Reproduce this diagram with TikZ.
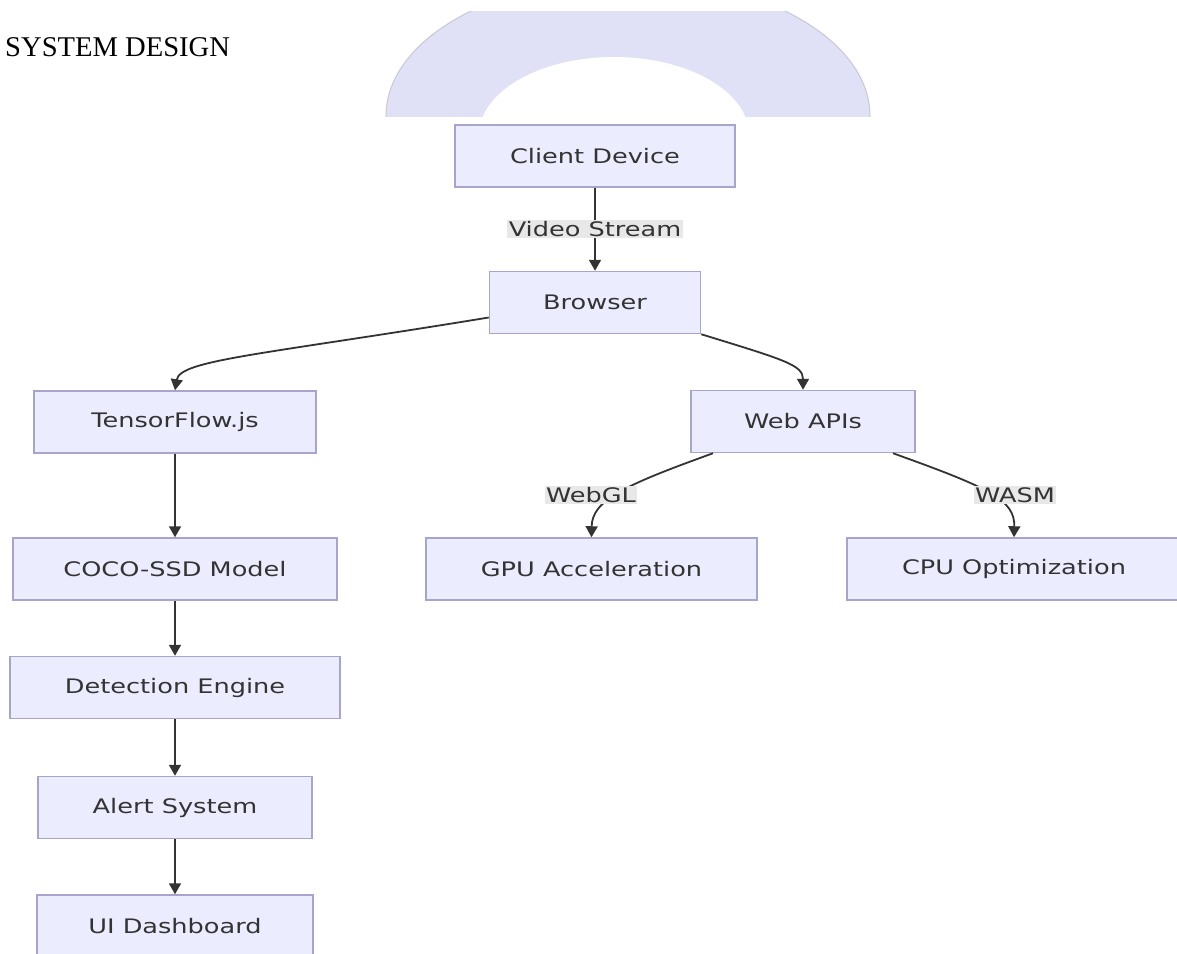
\documentclass[tikz,border=0pt]{standalone}
\usepackage{fontspec}
\setmainfont{Liberation Serif}
\newfontfamily\diag[FakeStretch=1.28]{DejaVu Sans}
\usetikzlibrary{arrows.meta}
\definecolor{boxfill}{RGB}{236,236,255}
\definecolor{boxline}{RGB}{168,164,204}
\definecolor{txt}{RGB}{51,51,51}
\definecolor{edgecol}{RGB}{51,51,51}
\definecolor{lblbg}{RGB}{232,232,232}
\definecolor{archcol}{RGB}{224,224,246}
\definecolor{archedge}{RGB}{200,200,215}
\begin{document}
\begin{tikzpicture}[x=1pt,y=-1pt,
  box/.style={draw=boxline, fill=boxfill, line width=1.5pt, minimum height=62pt,
    inner sep=0pt, font={\diag\fontsize{20}{23}\selectfont}, text=txt},
  lbl/.style={fill=lblbg, inner sep=1.5pt, font={\diag\fontsize{20}{23}\selectfont}, text=txt},
  conn/.style={draw=edgecol, line width=1.8pt, -{Triangle[length=11pt,width=12pt]}}]
\useasboundingbox (0,0) rectangle (1177,953);
\clip (0,0) rectangle (1177,953);
% arch
\begin{scope}
  \clip (380,11) rectangle (880,116);
  \fill[archcol, draw=archedge, line width=1pt] (628,116) ellipse [x radius=242, y radius=138];
  \fill[white] (614,135) ellipse [x radius=135, y radius=78];
\end{scope}
% title
\node[anchor=base west, inner sep=0pt, font={\fontsize{28.6}{30}\selectfont}] (title) at (5,56) {SYSTEM DESIGN};
% nodes
\node[box, minimum width=280pt] (client) at (595,156) {Client Device};
\node[box, minimum width=211pt] (browser) at (595,302.5) {Browser};
\node[box, minimum width=282pt] (tf) at (175,422) {TensorFlow.js};
\node[box, minimum width=324pt] (coco) at (175,569) {COCO-SSD Model};
\node[box, minimum width=330pt] (det) at (175,687.5) {Detection Engine};
\node[box, minimum width=274pt] (alert) at (175,807.5) {Alert System};
\node[box, minimum width=276pt] (ui) at (175,926) {UI Dashboard};
\node[box, minimum width=224pt] (web) at (803,421.5) {Web APIs};
\node[box, minimum width=331pt] (gpu) at (591.5,569) {GPU Acceleration};
\node[box, minimum width=334pt] (cpu) at (1014,569) {CPU Optimization};
% edges
\draw[conn] (client) -- node[lbl] (lvideo) {Video Stream} (browser);
\draw[conn] ([yshift=-15pt]browser.west) .. controls (260,355) and (180,360) .. (tf.north);
\draw[conn] (browser.south east) .. controls (785,360) and (803,365) .. (web.north);
\draw[conn] (tf) -- (coco);
\draw[conn] (coco) -- (det);
\draw[conn] (det) -- (alert);
\draw[conn] (alert) -- (ui);
\draw[conn] ([xshift=-90pt]web.south) .. controls (625,485) and (592,500) .. (gpu.north);
\draw[conn] ([xshift=90pt]web.south) .. controls (990,488) and (1015,500) .. (cpu.north);
\node[lbl] (lwebgl) at (591,495) {WebGL};
\node[lbl] (lwasm) at (1015,495) {WASM};
\end{tikzpicture}
\end{document}
